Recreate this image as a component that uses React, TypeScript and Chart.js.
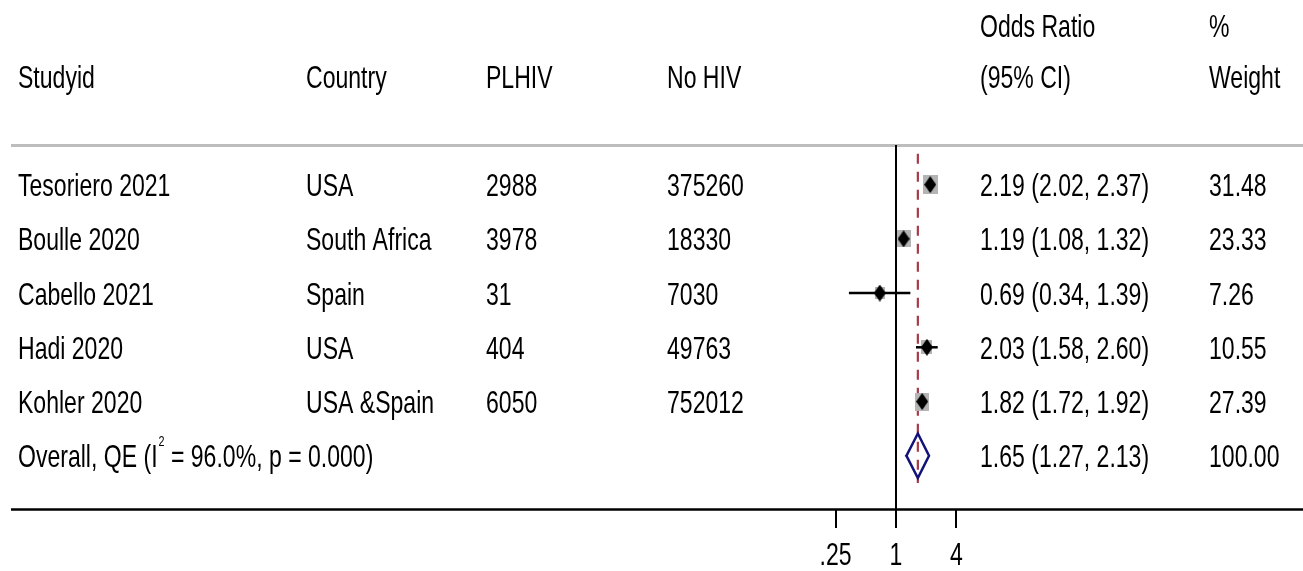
import { useEffect, useRef } from "react";
import { Chart, registerables } from "chart.js";

Chart.register(...registerables);

// ---------- data ----------
const studyIds = ["Tesoriero 2021", "Boulle 2020", "Cabello 2021", "Hadi 2020", "Kohler 2020"];
const countries = ["USA", "South Africa", "Spain", "USA", "USA &Spain"];
const plhivCounts = ["2988", "3978", "31", "404", "6050"];
const noHivCounts = ["375260", "18330", "7030", "49763", "752012"];
const oddsRatios = [2.19, 1.19, 0.69, 2.03, 1.82];
const ciLower = [2.02, 1.08, 0.34, 1.58, 1.72];
const ciUpper = [2.37, 1.32, 1.39, 2.6, 1.92];
const weights = [31.48, 23.33, 7.26, 10.55, 27.39];

const overallLabelMain = "Overall, QE (I";
const overallLabelSup = "2";
const overallLabelRest = " = 96.0%, p = 0.000)";
const overallOR = 1.65;
const overallLower = 1.27;
const overallUpper = 2.13;
const overallWeight = 100.0;

const xTickValues = [0.25, 1, 4];
const xTickLabels = [".25", "1", "4"];

const headerStudy = "Studyid";
const headerCountry = "Country";
const headerPlhiv = "PLHIV";
const headerNoHiv = "No HIV";
const headerOR1 = "Odds Ratio";
const headerOR2 = "(95% CI)";
const headerW1 = "%";
const headerW2 = "Weight";

// ---------- layout / style ----------
const W = 1303;
const H = 571;
const FONT_FAMILY = '"Liberation Sans", Arial, Helvetica, sans-serif';
const FONT_SIZE = 32;
const SCALE_X = 0.72;
const Y_MIN = 0.27;
const Y_MAX = 7.0;
const REF_TOP = 0.43;
const REF_BOTTOM = 6.5;
const DIAMOND_HALF = 0.41;
const X_HALF_RANGE = 5.706;
const COL_X = { study: 18, country: 306, plhiv: 486, noHiv: 667, or: 980, w: 1209 };

function fmt(v: number) {
  return v.toFixed(2);
}

function makeDiamond(w: number, h: number, color: string) {
  const c = document.createElement("canvas");
  c.width = w;
  c.height = h;
  const ctx = c.getContext("2d")!;
  ctx.fillStyle = color;
  ctx.beginPath();
  ctx.moveTo(w / 2, 0);
  ctx.lineTo(w, h / 2);
  ctx.lineTo(w / 2, h);
  ctx.lineTo(0, h / 2);
  ctx.closePath();
  ctx.fill();
  return c;
}

function makeBox(weight: number, color: string) {
  const s = Math.sqrt(weight);
  const w = Math.round(5 + 1.8 * s);
  const h = Math.round(6.5 + 2.2 * s);
  const c = document.createElement("canvas");
  c.width = w;
  c.height = h;
  const ctx = c.getContext("2d")!;
  ctx.fillStyle = color;
  ctx.fillRect(0, 0, w, h);
  return c;
}

function drawText(
  ctx: CanvasRenderingContext2D,
  text: string,
  x: number,
  y: number,
  size = FONT_SIZE,
  align: CanvasTextAlign = "left"
) {
  ctx.save();
  ctx.font = `${size}px ${FONT_FAMILY}`;
  ctx.fillStyle = "#000";
  ctx.textAlign = align;
  ctx.textBaseline = "alphabetic";
  ctx.translate(x, y);
  ctx.scale(SCALE_X, 1);
  ctx.fillText(text, 0, 0);
  ctx.restore();
}

function textWidth(ctx: CanvasRenderingContext2D, text: string, size = FONT_SIZE) {
  ctx.save();
  ctx.font = `${size}px ${FONT_FAMILY}`;
  const w = ctx.measureText(text).width * SCALE_X;
  ctx.restore();
  return w;
}

const forestTextPlugin = {
  id: "forestText",
  beforeDatasetsDraw(chart: any) {
    const ctx: CanvasRenderingContext2D = chart.ctx;
    const { top, bottom } = chart.chartArea;
    ctx.save();
    // top grey rule
    ctx.strokeStyle = "#bdbdbd";
    ctx.lineWidth = 3;
    ctx.beginPath();
    ctx.moveTo(11, top + 0.5);
    ctx.lineTo(W, top + 0.5);
    ctx.stroke();
    // bottom black rule (axis line)
    ctx.strokeStyle = "#000";
    ctx.lineWidth = 2.5;
    ctx.beginPath();
    ctx.moveTo(11, bottom - 0.5);
    ctx.lineTo(W, bottom - 0.5);
    ctx.stroke();
    ctx.restore();
  },
  afterDraw(chart: any) {
    const ctx: CanvasRenderingContext2D = chart.ctx;
    const yScale = chart.scales.y;
    const xScale = chart.scales.x;
    const capHalf = 11.5;

    // headers
    const h1 = 37;
    const h2 = 88;
    drawText(ctx, headerOR1, COL_X.or, h1);
    drawText(ctx, headerW1, COL_X.w, h1);
    drawText(ctx, headerStudy, COL_X.study, h2);
    drawText(ctx, headerCountry, COL_X.country, h2);
    drawText(ctx, headerPlhiv, COL_X.plhiv, h2);
    drawText(ctx, headerNoHiv, COL_X.noHiv, h2);
    drawText(ctx, headerOR2, COL_X.or, h2);
    drawText(ctx, headerW2, COL_X.w, h2);

    // study rows
    studyIds.forEach((s, i) => {
      const y = yScale.getPixelForValue(i + 1) + capHalf;
      drawText(ctx, s, COL_X.study, y);
      drawText(ctx, countries[i], COL_X.country, y);
      drawText(ctx, plhivCounts[i], COL_X.plhiv, y);
      drawText(ctx, noHivCounts[i], COL_X.noHiv, y);
      drawText(ctx, `${fmt(oddsRatios[i])} (${fmt(ciLower[i])}, ${fmt(ciUpper[i])})`, COL_X.or, y);
      drawText(ctx, fmt(weights[i]), COL_X.w, y);
    });

    // overall row
    const oy = yScale.getPixelForValue(studyIds.length + 1) + capHalf;
    drawText(ctx, overallLabelMain, COL_X.study, oy);
    const w1 = textWidth(ctx, overallLabelMain);
    drawText(ctx, overallLabelSup, COL_X.study + w1 + 1, oy - 21, 15);
    const w2 = textWidth(ctx, overallLabelSup, 15);
    drawText(ctx, overallLabelRest, COL_X.study + w1 + 1 + w2, oy);
    drawText(ctx, `${fmt(overallOR)} (${fmt(overallLower)}, ${fmt(overallUpper)})`, COL_X.or, oy);
    drawText(ctx, fmt(overallWeight), COL_X.w, oy);

    // x tick labels
    xScale.ticks.forEach((t: any, i: number) => {
      const x = xScale.getPixelForValue(t.value);
      drawText(ctx, xTickLabels[i] ?? String(t.value), x, 565, FONT_SIZE, "center");
    });
  },
};

export default function App() {
  const canvasRef = useRef<HTMLCanvasElement | null>(null);

  useEffect(() => {
    document.body.style.margin = "0";
    const canvas = canvasRef.current;
    if (!canvas) return;

    const diamond = makeDiamond(12, 17, "#000");
    const boxes = weights.map((w) => makeBox(w, "#b4b4b4"));

    const ciDatasets = studyIds.map((_, i) => ({
      type: "scatter" as const,
      data: [
        { x: ciLower[i], y: i + 1 },
        { x: ciUpper[i], y: i + 1 },
      ],
      showLine: true,
      borderColor: "#000",
      borderWidth: 2.5,
      pointRadius: 0,
      clip: false,
      order: 1,
    }));

    const chart = new Chart(canvas, {
      type: "scatter",
      data: {
        datasets: [
          {
            data: oddsRatios.map((v, i) => ({ x: v, y: i + 1 })),
            pointStyle: diamond as any,
            pointRadius: 6,
            clip: false,
            order: 0,
          },
          ...ciDatasets,
          {
            data: oddsRatios.map((v, i) => ({ x: v, y: i + 1 })),
            pointStyle: boxes as any,
            pointRadius: 6,
            clip: false,
            order: 2,
          },
          {
            data: [
              { x: overallLower, y: studyIds.length + 1 },
              { x: overallOR, y: studyIds.length + 1 - DIAMOND_HALF },
              { x: overallUpper, y: studyIds.length + 1 },
              { x: overallOR, y: studyIds.length + 1 + DIAMOND_HALF },
              { x: overallLower, y: studyIds.length + 1 },
            ],
            showLine: true,
            borderColor: "#12127a",
            borderWidth: 2.5,
            borderJoinStyle: "miter",
            borderCapStyle: "square",
            pointRadius: 0,
            clip: false,
            order: 1,
          },
          {
            data: [
              { x: overallOR, y: REF_TOP },
              { x: overallOR, y: REF_BOTTOM },
            ],
            showLine: true,
            borderColor: "#a83a4a",
            borderWidth: 2.2,
            borderDash: [10, 8],
            pointRadius: 0,
            clip: false,
            order: 3,
          },
          {
            data: [
              { x: 1, y: Y_MIN },
              { x: 1, y: Y_MAX },
            ],
            showLine: true,
            borderColor: "#000",
            borderWidth: 2,
            pointRadius: 0,
            clip: false,
            order: 4,
          },
        ] as any,
      },
      options: {
        responsive: false,
        animation: false,
        devicePixelRatio: 1,
        events: [],
        layout: { padding: { top: 145, left: 820, right: 331, bottom: 0 } },
        plugins: {
          legend: { display: false },
          tooltip: { enabled: false },
        },
        scales: {
          x: {
            type: "logarithmic",
            bounds: "data",
            min: 1 / X_HALF_RANGE,
            max: X_HALF_RANGE,
            afterBuildTicks: (scale: any) => {
              scale.ticks = xTickValues.map((v) => ({ value: v }));
            },
            afterFit: (scale: any) => {
              scale.height = H - 510;
            },
            ticks: { display: false },
            grid: {
              drawOnChartArea: false,
              drawTicks: true,
              tickLength: 18,
              color: "#000",
              lineWidth: 2,
            },
            border: { display: false },
          },
          y: {
            type: "linear",
            display: false,
            reverse: true,
            min: Y_MIN,
            max: Y_MAX,
          },
        },
      } as any,
      plugins: [forestTextPlugin],
    });

    return () => chart.destroy();
  }, []);

  return <canvas ref={canvasRef} width={W} height={H} style={{ display: "block" }} />;
}
